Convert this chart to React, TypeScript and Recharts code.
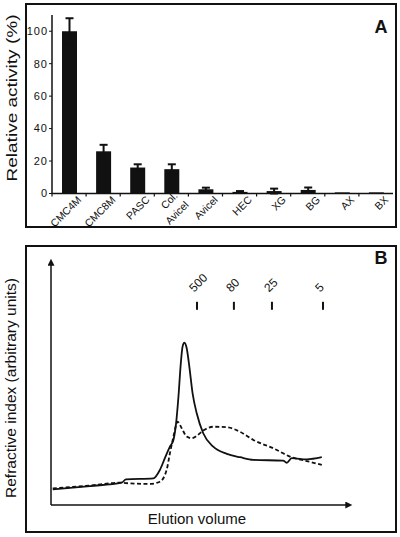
import { BarChart, Bar, ErrorBar, XAxis, YAxis, LineChart, Line, ReferenceDot } from 'recharts';

// panel A: relative activity on each substrate
const substrates = ['CMC4M', 'CMC8M', 'PASC', 'Col. Avicel', 'Avicel', 'HEC', 'XG', 'BG', 'AX', 'BX'];
const activity = [100, 26, 16, 15, 2.6, 1, 1.5, 2.2, 0.7, 0.7];
const activityErr = [8, 4, 2, 3, 1, 0.5, 1.5, 1.5, 0, 0];
const activityTicks = [0, 20, 40, 60, 80, 100];

// panel B: elution profiles (arbitrary units)
const solidVolume = [0.6, 13.2, 24.0, 25.4, 34.7, 36.9, 38.6, 40.3, 41.5, 42.4, 43.2, 44.0, 44.6, 45.2, 46.0, 46.9, 48.0, 49.4, 51.6, 55.0, 59.6, 64.1, 68.6, 78.7, 79.9, 81.6, 86.7, 91.8];
const solidIndex = [6.5, 7.9, 9.3, 10.7, 11.1, 14.6, 19.5, 24.3, 27.1, 34.0, 45.1, 59.0, 66.0, 67.6, 65.3, 57.6, 46.5, 38.2, 29.9, 24.3, 21.3, 19.9, 18.8, 18.5, 17.6, 19.5, 19.0, 19.9];
const dashedVolume = [0.6, 13.2, 23.4, 26.8, 33.6, 36.9, 39.2, 40.3, 41.5, 42.4, 42.9, 44.3, 46.0, 47.7, 49.4, 51.6, 55.0, 59.6, 64.1, 68.6, 75.4, 81.6, 86.7, 91.8];
const dashedIndex = [6.9, 8.1, 9.3, 9.0, 8.8, 9.7, 14.6, 21.5, 28.5, 33.3, 34.7, 32.0, 28.5, 27.8, 28.8, 31.0, 32.6, 32.4, 30.5, 27.1, 23.6, 19.9, 18.3, 16.7];
const markerLabels = ['500', '80', '25', '5'];
const markerVolume = [49.5, 62.0, 74.9, 92.2];
const markerLevel = 83;

const barData = substrates.map((name, i) => ({ name, value: activity[i], err: activityErr[i] }));
const solidData = solidVolume.map((ev, i) => ({ ev, ri: solidIndex[i] }));
const dashedData = dashedVolume.map((ev, i) => ({ ev, ri: dashedIndex[i] }));

const FONT = '"Liberation Sans", Arial, sans-serif';
const INK = '#111';
const halfBand = (393 - 52) / substrates.length / 2;

function SubstrateTick(props: any) {
  const { x, y, payload } = props;
  const label: string = payload.value;
  const ax = x + 13;
  const ay = y + 7;
  const rot = `rotate(-45 ${ax} ${ay})`;
  return (
    <g>
      <line x1={x - halfBand} y1={y} x2={x - halfBand} y2={y + 3} stroke={INK} strokeWidth={1.2} />
      {label === 'Col. Avicel' ? (
        <>
          <text x={ax - 6} y={ay - 4} transform={`rotate(-45 ${ax - 6} ${ay - 4})`} textAnchor="end" fontSize={10.5} fontFamily={FONT} fill={INK}>Col.</text>
          <text x={ax + 5} y={ay + 5} transform={`rotate(-45 ${ax + 5} ${ay + 5})`} textAnchor="end" fontSize={10.5} fontFamily={FONT} fill={INK}>Avicel</text>
        </>
      ) : (
        <text x={ax} y={ay} transform={rot} textAnchor="end" fontSize={10.5} fontFamily={FONT} fill={INK}>{label}</text>
      )}
    </g>
  );
}

function markerShape(label: string) {
  return (p: any) => {
    const tx = p.cx - 3;
    const ty = p.cy - 13;
    return (
      <g>
        <line x1={p.cx} y1={p.cy - 4} x2={p.cx} y2={p.cy + 4} stroke={INK} strokeWidth={2} />
        <text x={tx} y={ty} transform={`rotate(-45 ${tx} ${ty})`} fontSize={12} fontFamily={FONT} fill={INK}>
          {label}
        </text>
      </g>
    );
  };
}

const frame = { position: 'absolute' as const, border: `2px solid ${INK}`, boxSizing: 'border-box' as const };

export default function App() {
  return (
    <div style={{ position: 'absolute', left: 0, top: 0, width: 400, height: 537, background: '#fff' }}>
      <svg width={0} height={0} style={{ position: 'absolute' }}>
        <defs>
          <marker id="arrowHead" viewBox="0 0 10 10" refX="1" refY="5" markerWidth="9" markerHeight="7"
            markerUnits="userSpaceOnUse" orient="auto-start-reverse">
            <path d="M0,0 L10,5 L0,10 z" fill={INK} />
          </marker>
        </defs>
      </svg>

      <div style={{ ...frame, left: 25, top: 3, width: 372, height: 225 }} />
      <div style={{ ...frame, left: 25, top: 245, width: 372, height: 288 }} />

      <div style={{ position: 'absolute', left: 0, top: 0 }}>
        <BarChart width={400} height={230} data={barData} margin={{ top: 15, right: 7, left: 7, bottom: 0 }} barSize={15}>
          <XAxis
            dataKey="name"
            interval={0}
            height={36.5}
            tickLine={false}
            tickSize={0}
            tickMargin={0}
            axisLine={{ stroke: INK, strokeWidth: 1.5 }}
            tick={<SubstrateTick />}
          />
          <YAxis
            width={45}
            domain={[0, 110]}
            ticks={activityTicks}
            tickSize={3}
            tickMargin={1}
            axisLine={{ stroke: INK, strokeWidth: 1.5 }}
            tickLine={{ stroke: INK }}
            tick={{ fontSize: 11, fill: INK, fontFamily: FONT, letterSpacing: 1 }}
          />
          <Bar dataKey="value" fill={INK} isAnimationActive={false}>
            <ErrorBar dataKey="err" width={4} stroke={INK} strokeWidth={2} direction="y" />
          </Bar>
        </BarChart>
      </div>

      <div style={{ position: 'absolute', left: 0, top: 240 }}>
        <LineChart width={400} height={297} margin={{ top: 25, right: 54, left: 0, bottom: 0 }}>
          <XAxis
            type="number"
            dataKey="ev"
            domain={[0, 100]}
            allowDataOverflow
            height={32}
            tick={false}
            tickLine={false}
            axisLine={{ stroke: INK, strokeWidth: 1.5, markerEnd: 'url(#arrowHead)' }}
          />
          <YAxis
            type="number"
            domain={[0, 100]}
            allowDataOverflow
            width={51}
            tick={false}
            tickLine={false}
            axisLine={{ stroke: INK, strokeWidth: 1.5, markerStart: 'url(#arrowHead)' }}
          />
          <Line data={solidData} dataKey="ri" type="monotone" dot={false} stroke={INK} strokeWidth={1.8} isAnimationActive={false} />
          <Line data={dashedData} dataKey="ri" type="monotone" dot={false} stroke={INK} strokeWidth={1.8} strokeDasharray="4 2.5" isAnimationActive={false} />
          {markerLabels.map((label, i) => (
            <ReferenceDot key={label} x={markerVolume[i]} y={markerLevel} shape={markerShape(label)} />
          ))}
        </LineChart>
      </div>

      <svg width={400} height={537} style={{ position: 'absolute', left: 0, top: 0, pointerEvents: 'none' }}>
        <text transform="translate(16.5,98) rotate(-90)" textAnchor="middle" fontSize={15} fontFamily={FONT} fill={INK}
          textLength={167} lengthAdjust="spacingAndGlyphs">
          Relative activity (%)
        </text>
        <text x={381} y={33} textAnchor="middle" fontSize={18} fontWeight="bold" fontFamily={FONT} fill={INK}>A</text>
        <text transform="translate(16,388) rotate(-90)" textAnchor="middle" fontSize={15} fontFamily={FONT} fill={INK}
          textLength={220} lengthAdjust="spacingAndGlyphs">
          Refractive index (arbitrary units)
        </text>
        <text x={381} y={264} textAnchor="middle" fontSize={18} fontWeight="bold" fontFamily={FONT} fill={INK}>B</text>
        <text x={197} y={524} textAnchor="middle" fontSize={15} fontFamily={FONT} fill={INK}>Elution volume</text>
      </svg>
    </div>
  );
}
